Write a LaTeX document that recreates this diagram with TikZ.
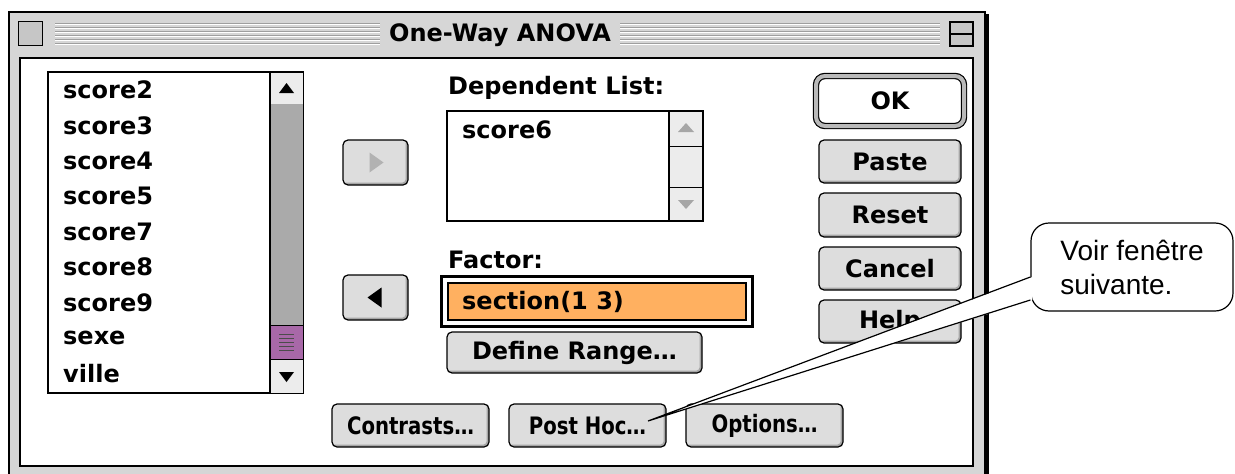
\documentclass[tikz,border=0pt]{standalone}
\usepackage{fontspec}
\setmainfont{DejaVu Sans}
\newfontfamily\narrowfont[FakeStretch=0.82]{DejaVu Sans}
\newfontfamily\bubblefont{Liberation Sans}
\usetikzlibrary{
		calc,
		positioning
	}
\tikzset{
		>=stealth
	}
\definecolor{macgray}{RGB}{221,221,221}
\definecolor{framegray}{RGB}{214,214,214}
\definecolor{trackgray}{RGB}{170,170,170}
\definecolor{thumbpurple}{RGB}{168,104,168}
\definecolor{factororange}{RGB}{255,176,96}
\definecolor{scrollgray}{RGB}{236,236,236}

\begin{document}
\begin{tikzpicture}[x=1pt, y=-1pt,
				macfont/.style={font=\bfseries\fontsize{24}{24}\selectfont},
				button/.style={macfont, draw=black, line width=1.2pt, fill=macgray, rounded corners=5pt, inner sep=0pt,
					path picture={\draw[gray!70, line width=5pt] (path picture bounding box.south west) -- (path picture bounding box.south east) -- (path picture bounding box.north east);}},
				narrowbutton/.style={button, font=\narrowfont\bfseries\fontsize{24}{24}\selectfont},
				listitem/.style={macfont, anchor=west, inner sep=0pt},
				field/.style={draw=black, line width=1.2pt, fill=white, inner sep=0pt},
				bubble/.style={draw=black, line width=1.2pt, fill=white, rounded corners=18pt, inner sep=0pt, align=left,
					font=\bubblefont\fontsize{28}{34}\selectfont}]
	\useasboundingbox (0,0) rectangle (1235,474);
	\clip (0,0) rectangle (1235,474);
	\fill[white] (0,0) rectangle (1235,474);
	\fill[framegray] (9,12) rectangle (985,490);
	\draw[line width=1.5pt] (9,12) rectangle (985,490);
	\draw[line width=3pt] (987,14) -- (987,474);
	\foreach \y in {23,27,...,43} {
		\draw[gray!75, line width=1pt] (55,\y) -- (380,\y);
		\draw[gray!75, line width=1pt] (620,\y) -- (940,\y);
		\draw[white, line width=1pt] (55,\y+1.5) -- (380,\y+1.5);
		\draw[white, line width=1pt] (620,\y+1.5) -- (940,\y+1.5);
	}
	\node[draw, line width=1.5pt, fill=gray!45, inner sep=0pt, minimum size=24] (closebox) at (30.5,33.5) {};
	\node[draw, line width=1.5pt, fill=gray!45, inner sep=0pt, minimum width=23, minimum height=24] (zoombox) at (961.5,34) {};
	\draw[line width=1.5pt] (zoombox.west) -- (zoombox.east);
	\node[macfont] (title) at (500,35) {One-Way ANOVA};
	\draw[fill=white, line width=1.5pt] (20,58) rectangle (973,466);

	\node[field, minimum width=255, minimum height=321] (varlist) at (175.5,232.5) {};
	\draw[fill=scrollgray] (270,72) rectangle (303,104);
	\fill[trackgray] (270,104) rectangle (303,325);
	\draw[fill=thumbpurple] (270,325) rectangle (303,359);
	\foreach \y in {334,338,...,350}
		\draw[black!70] (279,\y) -- (294,\y);
	\draw[fill=scrollgray] (270,359) rectangle (303,393);
	\fill (286.5,83) -- (294,93) -- (279,93) -- cycle;
	\fill (286.5,382) -- (294,372) -- (279,372) -- cycle;
	\draw[line width=1.2pt] (270,72) -- (270,393);
	\draw[line width=1.2pt] (varlist.north west) rectangle (varlist.south east);
	\foreach \name [count=\i from 0] in {score2,score3,score4,score5,score7,score8,score9,sexe,ville}
		\node[listitem] (item\i) at (63,90+35.4*\i) {\name};

	\node[button, minimum width=65, minimum height=45] (addbtn) at (375.5,162.5) {};
	\fill[gray!60] ($(addbtn.center)+(-6,-10)$) -- ++(14,10) -- ++(-14,10) -- cycle;
	\node[button, minimum width=65, minimum height=45] (removebtn) at (375.5,297.5) {};
	\fill ($(removebtn.center)+(6,-10)$) -- ++(-14,10) -- ++(14,10) -- cycle;

	\node[listitem] (deplabel) at (448,88) {Dependent List:};
	\node[field, minimum width=256, minimum height=110] (deplist) at (575,166) {};
	\draw[fill=scrollgray, line width=1.2pt] (669,111) rectangle (703,221);
	\draw (669,146) -- (703,146);
	\draw (669,187) -- (703,187);
	\fill[gray!70] (686,123) -- (694,132) -- (678,132) -- cycle;
	\fill[gray!70] (686,209) -- (694,200) -- (678,200) -- cycle;
	\node[listitem] (depitem) at (462,130) {score6};

	\node[listitem] (factorlabel) at (448,260) {Factor:};
	\node[draw, line width=3pt, fill=white, inner sep=0pt, minimum width=311, minimum height=50] (factorbox) at (597,301.5) {};
	\node[draw, line width=1.2pt, fill=factororange, inner sep=0pt, minimum width=298, minimum height=37] (factorfield) at (597,301.5) {};
	\node[listitem] (factoritem) at (462,302) {section(1 3)};
	\node[button, minimum width=255, minimum height=41] (rangebtn) at (574.5,352.5) {Define Range…};

	\node[narrowbutton, minimum width=157, minimum height=43] (contrastsbtn) at (410.5,425.5) {Contrasts…};
	\node[narrowbutton, minimum width=157, minimum height=43] (posthocbtn) at (587.5,425.5) {Post Hoc…};
	\node[narrowbutton, minimum width=157, minimum height=43] (optionsbtn) at (764.5,425.5) {Options…};

	\node[macfont, draw=black, line width=1.2pt, double=gray!55, double distance=4pt, fill=white, rounded corners=9pt,
		inner sep=0pt, minimum width=148, minimum height=50] (okbtn) at (890,101) {OK};
	\node[button, minimum width=142, minimum height=43] (pastebtn) at (890,161.5) {Paste};
	\node[button, minimum width=142, minimum height=44] (resetbtn) at (890,215) {Reset};
	\node[button, minimum width=142, minimum height=43] (cancelbtn) at (890,268.5) {Cancel};
	\node[button, minimum width=142, minimum height=43] (helpbtn) at (890,321.5) {Help};

	\node[bubble, minimum width=202, minimum height=88] (callout) at (1132,267) {Voir fenêtre\\suivante.};
	\coordinate (tip) at ($(posthocbtn.center)+(60.5,-4.5)$);
	\coordinate (wedgetop) at ($(callout.west)+(0,10)$);
	\coordinate (wedgebot) at ($(callout.west)+(0,33)$);
	\fill[white] ($(wedgetop)+(2,0)$) -- (tip) -- ($(wedgebot)+(2,0)$) -- cycle;
	\draw[line width=1.2pt] (wedgetop) -- (tip) -- (wedgebot);
\end{tikzpicture}
\end{document}
